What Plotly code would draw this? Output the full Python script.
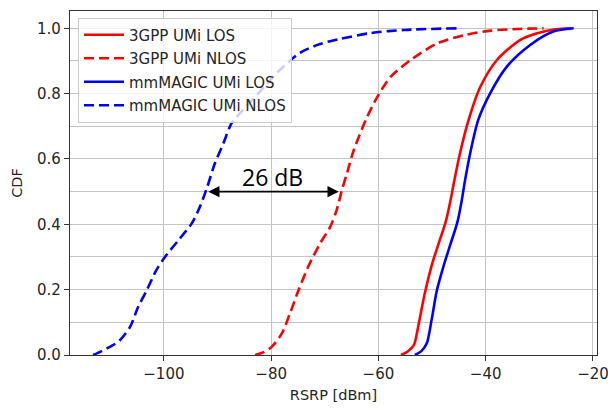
import plotly.graph_objects as go

# CDF of RSRP for the four propagation models (RSRP in dBm, CDF level)
los_3gpp_rsrp = [-55.8, -54.6, -53.4, -52.6, -51.4, -50.0, -48.7, -47.5, -46.6, -45.9,
                 -44.8, -43.2, -41.0, -37.9, -33.6, -30.4, -27.0, -24.1]
los_3gpp_cdf = [0.0, 0.01, 0.03, 0.086, 0.185, 0.278, 0.345, 0.405, 0.47, 0.53,
                0.617, 0.719, 0.821, 0.903, 0.964, 0.985, 0.997, 1.0]

nlos_3gpp_rsrp = [-83.0, -81.5, -79.9, -78.0, -76.5, -74.9, -73.1, -70.9, -69.0, -67.8,
                  -66.8, -65.8, -64.6, -62.1, -60.2, -57.7, -54.0, -49.0, -44.0, -39.0,
                  -34.0, -29.2]
nlos_3gpp_cdf = [0.0, 0.008, 0.025, 0.066, 0.127, 0.198, 0.27, 0.341, 0.392, 0.443,
                 0.505, 0.56, 0.627, 0.729, 0.79, 0.852, 0.903, 0.954, 0.979, 0.993,
                 0.998, 1.0]

los_mm_rsrp = [-53.2, -52.0, -51.0, -50.1, -49.1, -47.9, -46.6, -45.3, -44.5, -43.9,
               -42.9, -41.4, -39.2, -36.1, -31.7, -27.4, -23.6]
los_mm_cdf = [0.0, 0.012, 0.035, 0.106, 0.198, 0.27, 0.338, 0.405, 0.47, 0.53,
              0.617, 0.719, 0.80, 0.882, 0.949, 0.99, 1.0]

nlos_mm_rsrp = [-113.2, -111.6, -109.5, -108.2, -106.3, -104.8, -103.2, -101.4, -99.8,
                -97.3, -94.8, -93.3, -92.0, -90.5, -88.9, -87.4, -85.8, -82.1, -78.4,
                -74.6, -70.9, -67.5, -61.6, -55.2, -45.3]
nlos_mm_cdf = [0.0, 0.012, 0.03, 0.045, 0.086, 0.147, 0.198, 0.26, 0.30, 0.351, 0.403,
               0.453, 0.51, 0.586, 0.648, 0.709, 0.74, 0.806, 0.872, 0.925, 0.952, 0.966,
               0.985, 0.995, 1.0]

series_names = ["3GPP UMi LOS", "3GPP UMi NLOS", "mmMAGIC UMi LOS", "mmMAGIC UMi NLOS"]

# Medians of the two NLOS curves, joined by the gap arrow
gap_level = 0.5
gap_label = "26 dB"
gap_from = -92.0
gap_to = -67.4

RED = "#ff0000"
BLUE = "#0000ff"
DASH = "10px,5px"
TXT = "#262626"

fig = go.Figure()
traces = [
    (los_3gpp_rsrp, los_3gpp_cdf, series_names[0], RED, "solid"),
    (nlos_3gpp_rsrp, nlos_3gpp_cdf, series_names[1], RED, DASH),
    (los_mm_rsrp, los_mm_cdf, series_names[2], BLUE, "solid"),
    (nlos_mm_rsrp, nlos_mm_cdf, series_names[3], BLUE, DASH),
]
for i, (x, y, name, col, dash) in enumerate(traces):
    fig.add_trace(go.Scatter(
        x=x, y=y, name=name, mode="lines", legendgroup=f"g{i}",
        line=dict(color=col, width=2.6, dash=dash, shape="spline", smoothing=0.8),
    ))

fig.add_annotation(
    x=gap_to, y=gap_level, ax=gap_from, ay=gap_level,
    xref="x", yref="y", axref="x", ayref="y",
    text="", showarrow=True, arrowhead=2, arrowside="end+start",
    arrowsize=1.4, arrowwidth=1.6, arrowcolor="black",
)
fig.add_annotation(
    x=(gap_from + gap_to) / 2, y=0.544, xref="x", yref="y",
    text=gap_label, showarrow=False,
    font=dict(family="Open Sans", size=23, color="black"),
)

axis_common = dict(
    showline=True, linecolor="#333333", linewidth=1.3, mirror=True,
    ticks="outside", ticklen=5, tickwidth=1.2, tickcolor="#333333",
    gridcolor="#c4c4c4", gridwidth=1.2, zeroline=False, automargin=False,
    ticklabeloverflow="allow",
    tickfont=dict(family="DejaVu Sans", size=15, color=TXT),
)

fig.update_xaxes(
    range=[-117.5, -19.25], tickmode="linear", tick0=-100, dtick=20,
    title=dict(text="RSRP [dBm]", standoff=7,
               font=dict(family="DejaVu Sans", size=14.5, color=TXT)),
    **axis_common,
)
fig.update_yaxes(
    range=[0, 1.053], tickmode="linear", tick0=0, dtick=0.2, tickformat=".1f",
    minor=dict(dtick=0.1, showgrid=True, gridcolor="#c4c4c4", gridwidth=1.2),
    title=dict(text="CDF", standoff=10,
               font=dict(family="DejaVu Sans", size=14.5, color=TXT)),
    **axis_common,
)

fig.update_layout(
    width=608, height=409,
    margin=dict(l=70, r=11, t=11, b=54),
    plot_bgcolor="white", paper_bgcolor="white",
    legend=dict(
        x=0.0152, y=0.981, xanchor="left", yanchor="top",
        bgcolor="rgba(255,255,255,0.8)", bordercolor="#cccccc", borderwidth=1,
        tracegroupgap=1, itemwidth=40,
        font=dict(family="DejaVu Sans", size=15, color=TXT),
    ),
    showlegend=True,
)

fig.write_html("out.html")
